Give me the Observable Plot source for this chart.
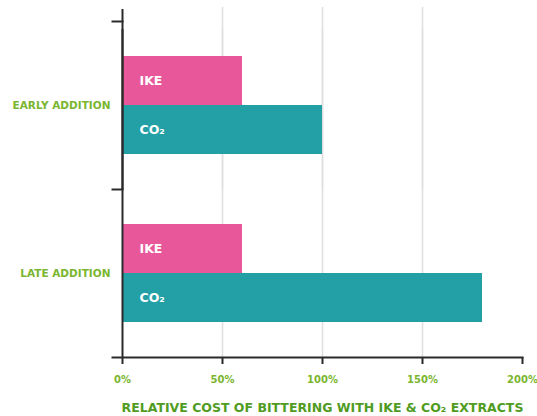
<!DOCTYPE html>
<html>
<head>
<meta charset="utf-8">
<script src="https://cdn.jsdelivr.net/npm/d3@7"></script>
<script src="https://cdn.jsdelivr.net/npm/@observablehq/plot@0.6"></script>
<style>
  html, body { margin: 0; padding: 0; background: #fff; }
  #chart svg { display: block; }
</style>
</head>
<body>
<div id="chart"></div>
<script>
const groups = ["EARLY ADDITION", "LATE ADDITION"];
const series = ["IKE", "CO₂"];
const ikeValues = [60, 60];
const co2Values = [100, 180];
const xTicks = [0, 50, 100, 150, 200];
const gridTicks = [50, 100, 150];
const xTitle = "RELATIVE COST OF BITTERING WITH IKE & CO₂ EXTRACTS";

const data = groups.flatMap((g, i) => [
  {group: g, series: series[0], value: ikeValues[i]},
  {group: g, series: series[1], value: co2Values[i]}
]);

const green = "#7ab630";
const darkGreen = "#509c22";
const axisColor = "#2a2a2a";

const chart = Plot.plot({
  width: 537,
  height: 416,
  marginLeft: 122,
  marginRight: 15,
  marginTop: 20,
  marginBottom: 59,
  style: {fontFamily: "'DejaVu Sans', sans-serif", fontWeight: "bold", background: "#fff"},
  x: {domain: [0, 200], ticks: xTicks, tickFormat: d => d + "%"},
  fy: {domain: groups, padding: 0, label: null},
  y: {domain: series, paddingInner: 0, paddingOuter: 0.685, axis: null},
  color: {domain: series, range: ["#e9579b", "#239fa6"]},
  marks: [
    Plot.ruleX(gridTicks, {facetAnchor: "top", stroke: "#dedede", strokeWidth: 1.5, insetTop: -14}),
    Plot.ruleX(gridTicks, {facetAnchor: "bottom", stroke: "#dedede", strokeWidth: 1.5, insetTop: -160}),
    Plot.barX(data, {fy: "group", y: "series", x: "value", fill: "series"}),
    Plot.text(data, {fy: "group", y: "series", x: 0, text: "series", dx: 17, textAnchor: "start",
      fill: "white", fontWeight: "bold", fontSize: 12.5}),
    Plot.ruleX([0], {facetAnchor: "top", stroke: axisColor, strokeWidth: 2, insetTop: -12}),
    Plot.ruleX([0], {facetAnchor: "bottom", stroke: axisColor, strokeWidth: 2, insetTop: -160}),
    Plot.frame({anchor: "top", insetLeft: -10, insetRight: 400, stroke: axisColor, strokeWidth: 2}),
    Plot.frame({anchor: "bottom", facetAnchor: "bottom", insetLeft: -10, stroke: axisColor, strokeWidth: 2}),
    Plot.axisX({ticks: xTicks, tickFormat: d => d + "%", tickSize: 7, tickPadding: 11,
      stroke: axisColor, strokeWidth: 2, fill: green, fontWeight: "bold", fontSize: 10, label: null}),
    Plot.axisX({ticks: [], tickSize: 0, label: xTitle, labelAnchor: "center", labelArrow: "none",
      labelOffset: 54, fill: darkGreen, fontWeight: "bold", fontSize: 12.5}),
    Plot.axisFy({anchor: "left", tickSize: 0, tickPadding: 12, fill: green, fontWeight: "bold", fontSize: 10.5, label: null})
  ]
});
document.getElementById("chart").append(chart);
</script>
</body>
</html>
